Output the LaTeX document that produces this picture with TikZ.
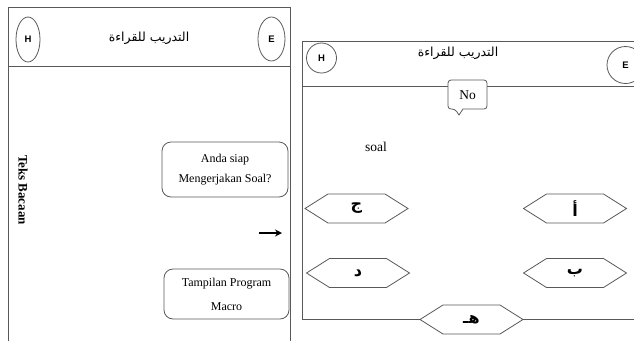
\documentclass[tikz,border=0pt]{standalone}
\usepackage{fontspec}
\setmainfont{Liberation Serif}
\newfontfamily\arabicfont[Script=Arabic]{DejaVu Sans}
\newfontfamily\hfont{Liberation Sans}
\TeXXeTstate=1
\usetikzlibrary{arrows.meta,shapes.geometric}
\tikzset{
  frame/.style={draw=black!65, line width=0.8pt},
  ell/.style={frame, ellipse, inner sep=0pt, font=\hfont\bfseries\fontsize{9.5}{11}\selectfont},
  rbox/.style={frame, rounded corners=9pt, align=center, inner sep=0pt, font=\fontsize{12}{13}\selectfont},
  hextext/.style={inner sep=0pt, font=\arabicfont\bfseries\fontsize{16}{18}\selectfont},
  titletext/.style={inner sep=0pt, font=\arabicfont\fontsize{12.5}{14}\selectfont}
}
\newcommand\hexbox[4]{%
  \draw[frame, fill=white] (#2-51.5,#3) -- ++(23,-14.5) -- ++(57,0) -- ++(23,14.5) -- ++(-23,14.5) -- ++(-57,0) -- cycle;
  \node[hextext] (#1) at (#2,#3) {\beginR #4\endR};
}
\begin{document}
\begin{tikzpicture}[x=1pt,y=-1pt]
\useasboundingbox (0,0) rectangle (634,341);
% left panel
\draw[frame] (8,341) -- (8,7) -- (290,7) -- (290,341);
\draw[frame] (8,66) -- (290,66);
\node[ell, minimum width=24pt, minimum height=45pt] (lh) at (28,39.5) {H};
\node[ell, minimum width=27pt, minimum height=44pt] (le) at (271.5,39) {E};
\node[titletext] (lt) at (149,38) {\beginR التدريب للقراءة\endR};
\node[rotate=-90, font=\bfseries\fontsize{13}{15}\selectfont] (teks) at (23,190) {Teks Bacaan};
\node[rbox, minimum width=126pt, minimum height=55pt] (q) at (225,169.5) {Anda siap\\[7pt]Mengerjakan Soal?};
\node[rbox, minimum width=125pt, minimum height=50pt] (m) at (226.5,294) {Tampilan Program\\[11pt]Macro};
\coordinate (a1) at (259,233);
\coordinate (a2) at (282,233);
\draw[-{Stealth[length=7pt,width=7pt]}, line width=2pt] (a1) -- (a2);
% right panel
\draw[frame] (302,319) -- (302,41) -- (640,41);
\draw[frame] (302,86) -- (640,86);
\draw[frame] (302,319) -- (640,319);
\node[ell, circle, minimum size=30pt] (rh) at (321.5,58) {H};
\node[ell, circle, minimum size=37pt] (re) at (625.5,65) {E};
\node[titletext] (rt) at (458,53) {\beginR التدريب للقراءة\endR};
\draw[frame, fill=white, rounded corners=3pt] (463,109) -- (487,109) -- (487,80) -- (448,80) -- (448,109) -- (455,109) [sharp corners] -- (459,115) -- cycle;
\node[font=\fontsize{13.5}{15}\selectfont] (no) at (467.5,95) {No};
\node[font=\fontsize{13.5}{15}\selectfont] (soal) at (376,147) {soal};
\hexbox{hj}{356.5}{208.5}{ج}
\hexbox{ha}{575}{208.5}{أ}
\hexbox{hd}{358}{273}{د}
\hexbox{hb}{575}{273}{ب}
\hexbox{hh}{471.5}{319.5}{هـ}
\end{tikzpicture}
\end{document}
